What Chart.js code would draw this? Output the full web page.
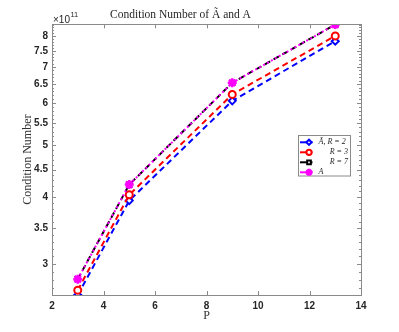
<!DOCTYPE html>
<html>
<head>
<meta charset="utf-8">
<script src="https://cdn.jsdelivr.net/npm/chart.js@4/dist/chart.umd.min.js"></script>
<style>
  html, body { margin: 0; padding: 0; background: #fff; }
  #wrap { width: 399px; height: 332px; position: relative; }
</style>
</head>
<body>
<div id="wrap"><canvas id="c" width="399" height="332"></canvas></div>
<script>
// ---- data (values in units of 1e11) ----
const EXP = 1e11;
const pValues = [3, 5, 9, 13];
const seriesAtR2 = [2.625, 3.94, 6.05, 7.82];
const seriesAtR3 = [2.68, 4.04, 6.22, 8.00];
const seriesAtR7 = [2.81, 4.22, 6.54, 8.40];
const seriesA    = [2.81, 4.22, 6.54, 8.40];
const xTicks = [2, 4, 6, 8, 10, 12, 14];
const yTicks = [3, 3.5, 4, 4.5, 5, 5.5, 6, 6.5, 7, 7.5, 8];
const yRange = [2.625, 8.41];
const legendLabels = ['Ã, R = 2', 'R = 3', 'R = 7', 'A'];

const pts = arr => pValues.map((p, i) => ({ x: p, y: arr[i] * EXP }));

const datasets = [
  { label: legendLabels[3], data: pts(seriesA), borderColor: '#ff00ff', backgroundColor: '#ff00ff',
    borderWidth: 2, borderDash: [2, 2.5], pointStyle: 'star', pointRadius: 4.5, pointBorderWidth: 2.5, order: 0 },
  { label: legendLabels[2], data: pts(seriesAtR7), borderColor: '#000000', backgroundColor: '#ffffff',
    borderWidth: 2, borderDash: [6, 4], pointStyle: 'rect', pointRadius: 3, pointBorderWidth: 2, order: 1 },
  { label: legendLabels[1], data: pts(seriesAtR3), borderColor: '#ff0000', backgroundColor: '#ffffff',
    borderWidth: 2, borderDash: [6, 4], pointStyle: 'circle', pointRadius: 3.5, pointBorderWidth: 2, order: 2 },
  { label: legendLabels[0], data: pts(seriesAtR2), borderColor: '#0000ff', backgroundColor: '#ffffff',
    borderWidth: 2, borderDash: [6, 4], pointStyle: 'rectRot', pointRadius: 3.5, pointBorderWidth: 2, order: 3 }
];

const frameColor = '#8a8a8a';
const textColor = '#262626';

const decorPlugin = {
  id: 'decor',
  afterDatasetsDraw(chart) {
    const { ctx, chartArea: a, scales } = chart;
    const xs = scales.x, ys = scales.y;
    ctx.save();
    // frame
    ctx.strokeStyle = frameColor;
    ctx.lineWidth = 1;
    ctx.strokeRect(Math.round(a.left) + 0.5, Math.round(a.top) + 0.5,
                   Math.round(a.right - a.left), Math.round(a.bottom - a.top));
    // x ticks inward
    ctx.beginPath();
    xTicks.forEach(v => {
      const px = Math.round(xs.getPixelForValue(v)) + 0.5;
      ctx.moveTo(px, a.bottom); ctx.lineTo(px, a.bottom - 4);
      ctx.moveTo(px, a.top); ctx.lineTo(px, a.top + 4);
    });
    // y major ticks
    yTicks.forEach(v => {
      const py = Math.round(ys.getPixelForValue(v * EXP)) + 0.5;
      ctx.moveTo(a.left, py); ctx.lineTo(a.left + 4, py);
      ctx.moveTo(a.right, py); ctx.lineTo(a.right - 4, py);
    });
    // y minor ticks
    for (let k = 27; k <= 84; k++) {
      if (k % 5 === 0) continue;
      const py = Math.round(ys.getPixelForValue(k / 10 * EXP)) + 0.5;
      ctx.moveTo(a.left, py); ctx.lineTo(a.left + 2, py);
      ctx.moveTo(a.right, py); ctx.lineTo(a.right - 2, py);
    }
    ctx.stroke();

    // exponent label
    ctx.fillStyle = textColor;
    ctx.textBaseline = 'middle';
    ctx.textAlign = 'left';
    ctx.font = '10px "Liberation Sans", Arial, sans-serif';
    ctx.fillText('×10', a.left + 1, 20);
    const w = ctx.measureText('×10').width;
    ctx.font = '7.5px "Liberation Sans", Arial, sans-serif';
    ctx.fillText('11', a.left + 1 + w + 0.5, 15);

    // legend box
    const bx = 298.5, by = 135.5, bw = 52, bh = 40.5;
    ctx.fillStyle = '#ffffff';
    ctx.fillRect(bx, by, bw, bh);
    ctx.strokeStyle = '#8a8a8a';
    ctx.lineWidth = 1;
    ctx.strokeRect(bx, by, bw, bh);
    const order = [3, 2, 1, 0];
    order.forEach((di, row) => {
      const ds = chart.data.datasets[di];
      const cy = by + 6.8 + row * 10;
      ctx.save();
      ctx.strokeStyle = ds.borderColor;
      ctx.lineWidth = 2;
      ctx.setLineDash([]);
      ctx.beginPath();
      ctx.moveTo(bx + 1.5, cy); ctx.lineTo(bx + 14, cy);
      ctx.stroke();
      ctx.fillStyle = ds.backgroundColor;
      ctx.strokeStyle = ds.borderColor;
      ctx.lineWidth = ds.pointBorderWidth;
      Chart.helpers.drawPoint(ctx, {
        pointStyle: ds.pointStyle, radius: ds.pointStyle === 'star' ? 3.5 : 2.6, rotation: 0,
        borderWidth: ds.pointBorderWidth
      }, bx + 10.5, cy);
      ctx.restore();
      ctx.fillStyle = textColor;
      ctx.font = 'italic 8px "Liberation Serif", "DejaVu Serif", serif';
      ctx.textBaseline = 'middle';
      if (row === 0 || row === 3) { ctx.textAlign = 'left'; ctx.fillText(ds.label, bx + 20, cy); }
      else { ctx.textAlign = 'right'; ctx.fillText(ds.label, bx + 49.5, cy); }
    });
    ctx.restore();
  }
};

new Chart(document.getElementById('c'), {
  type: 'line',
  data: { datasets },
  options: {
    responsive: false,
    animation: false,
    devicePixelRatio: 1,
    layout: { padding: { left: 0, right: 38, top: 0, bottom: 0 } },
    plugins: {
      legend: { display: false },
      tooltip: { enabled: false },
      title: {
        display: true,
        text: 'Condition Number of Ã and A',
        color: textColor,
        font: { family: '"Liberation Serif", "DejaVu Serif", serif', size: 11.5, weight: 'normal', lineHeight: 1.2 },
        padding: { top: 8.2, bottom: 2.3 }
      }
    },
    scales: {
      x: {
        type: 'linear', min: 2, max: 14,
        border: { display: false },
        grid: { display: false, drawTicks: false },
        afterBuildTicks: s => { s.ticks = xTicks.map(v => ({ value: v })); },
        afterFit: s => { s.height = 37; },
        ticks: { color: textColor, padding: 5, maxRotation: 0,
                 font: { family: '"Liberation Sans", Arial, sans-serif', size: 10, weight: 'bold' } },
        title: { display: true, text: 'P', color: '#333',
                 font: { family: '"Liberation Serif", "DejaVu Serif", serif', size: 12, lineHeight: 1.2 },
                 padding: { top: 0, bottom: 9.3 } }
      },
      y: {
        type: 'logarithmic', min: yRange[0] * EXP, max: yRange[1] * EXP,
        border: { display: false },
        grid: { display: false, drawTicks: false },
        afterBuildTicks: s => { s.ticks = yTicks.map(v => ({ value: v * EXP })); },
        afterFit: s => { s.width = 52; },
        ticks: { color: textColor, padding: 4,
                 callback: v => String(Math.round(v / EXP * 10) / 10),
                 font: { family: '"Liberation Sans", Arial, sans-serif', size: 10, weight: 'bold' } },
        title: { display: true, text: 'Condition Number', color: '#333',
                 font: { family: '"Liberation Serif", "DejaVu Serif", serif', size: 12, lineHeight: 1.2 },
                 padding: { top: 20.5, bottom: 0 } }
      }
    }
  },
  plugins: [decorPlugin]
});
</script>
</body>
</html>
